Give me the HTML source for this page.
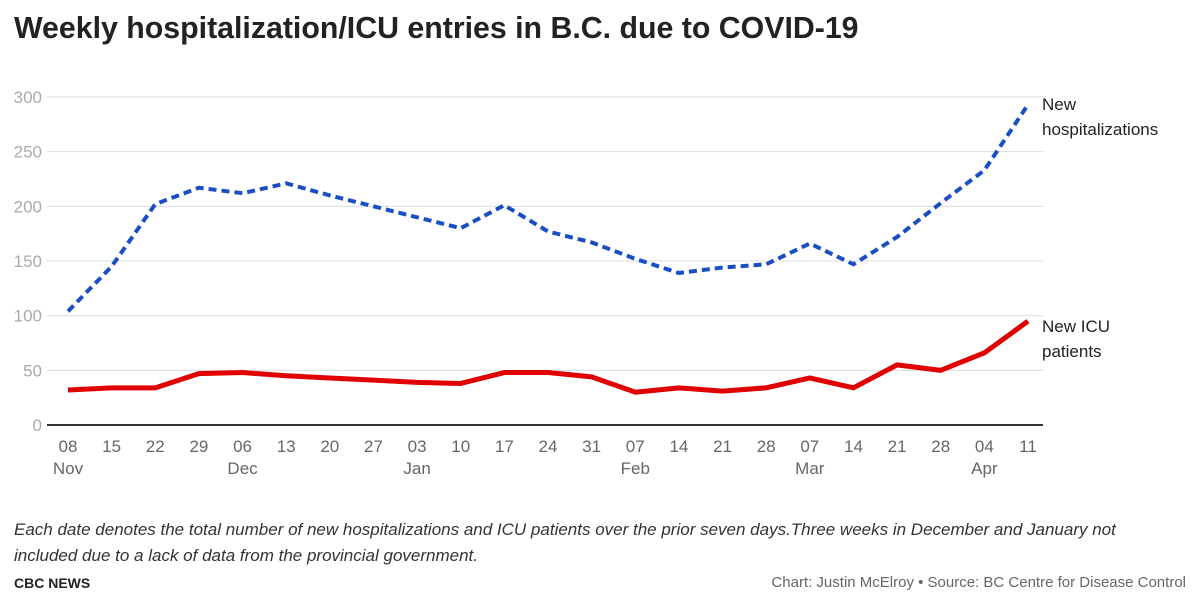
<!DOCTYPE html>
<html><head><meta charset="utf-8">
<style>
body{margin:0;width:1200px;height:615px;background:#fff;font-family:"Liberation Sans",sans-serif;overflow:hidden}
#title{position:absolute;left:14px;top:12px;font-size:30.3px;font-weight:bold;color:#222;letter-spacing:0px}
#note{position:absolute;left:14px;top:517px;font-size:17px;font-style:italic;color:#333;line-height:26px;width:1150px}
#brand{position:absolute;left:14px;top:575px;font-size:14px;font-weight:bold;color:#222}
#credit{position:absolute;right:14px;top:574px;font-size:15px;color:#666}
svg{position:absolute;left:0;top:0}
</style></head><body>
<div id="title">Weekly hospitalization/ICU entries in B.C. due to COVID-19</div>
<svg id="chart" width="1200" height="615"></svg>
<div id="note">Each date denotes the total number of new hospitalizations and ICU patients over the prior seven days.Three weeks in December and January not included due to a lack of data from the provincial government.</div>
<div id="brand">CBC NEWS</div>
<div id="credit">Chart: Justin McElroy • Source: BC Centre for Disease Control</div>
<script>
const days=["08","15","22","29","06","13","20","27","03","10","17","24","31","07","14","21","28","07","14","21","28","04","11"];
const months=["Nov","","","","Dec","","","","Jan","","","","","Feb","","","","Mar","","","","Apr",""];
const hosp=[104,145,202,217,212,221,210,200,190,180,201,177,167,152,139,144,147,166,147,172,203,233,293];
const icu=[32,34,34,47,48,45,43,41,39,38,48,48,44,30,34,31,34,43,34,55,50,66,95];
const yTicks=[0,50,100,150,200,250,300];
const NS="http://www.w3.org/2000/svg";
const svg=document.getElementById('chart');
const x0=68,x1=1028,y0=425,y300=97;
const X=i=>x0+i*(x1-x0)/(days.length-1);
const Y=v=>y0-v*(y0-y300)/300;
function mk(t,a){const e=document.createElementNS(NS,t);for(const k in a)e.setAttribute(k,a[k]);svg.appendChild(e);return e;}
yTicks.forEach(v=>{
 const l=mk('line',{x1:47,x2:1043,y1:Y(v),y2:Y(v),stroke:v===0?'#333':'#ddd','stroke-width':v===0?2:1});
 
 
 const t=mk('text',{x:42,y:Y(v)+6,'text-anchor':'end','font-size':17,fill:'#aaa'});
 t.textContent=v;
 
 
});
days.forEach((d,i)=>{
 const t=mk('text',{x:X(i),y:452,'text-anchor':'middle','font-size':17,fill:'#666'});
 t.textContent=d;
 
 
 if(months[i]){const m=mk('text',{x:X(i),y:474,'text-anchor':'middle','font-size':17,fill:'#666'});m.textContent=months[i];
 
 }
});
const ph=mk('path',{d:hosp.map((v,i)=>(i?'L':'M')+X(i)+','+Y(v)).join(''),fill:'none',stroke:'#1a4fc4','stroke-width':4,'stroke-dasharray':'8,5'});


const pi=mk('path',{d:icu.map((v,i)=>(i?'L':'M')+X(i)+','+Y(v)).join(''),fill:'none',stroke:'#e00000','stroke-width':5,'stroke-linejoin':'round'});


[["New",110],["hospitalizations",135]].forEach(([s,y])=>{const t=mk('text',{x:1042,y:y,'font-size':17,fill:'#222'});t.textContent=s;

});
[["New ICU",332],["patients",357]].forEach(([s,y])=>{const t=mk('text',{x:1042,y:y,'font-size':17,fill:'#222'});t.textContent=s;

});
</script>
</body></html>
